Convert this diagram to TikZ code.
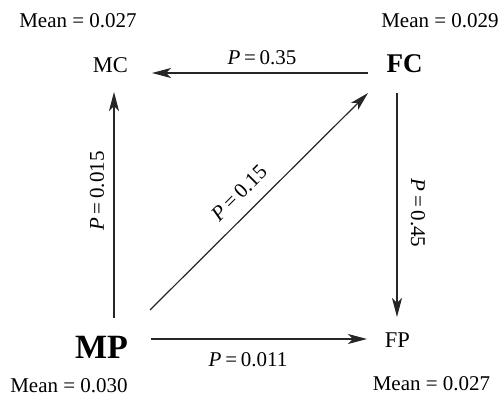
\documentclass[tikz,border=0pt]{standalone}
\usepackage{fontspec}
\setmainfont{Liberation Serif}
\usetikzlibrary{arrows.meta}
\begin{document}
\begin{tikzpicture}[x=1pt,y=-1pt,
  lbl/.style={inner sep=0pt, anchor=base, font=\fontsize{21}{24}\selectfont},
  small/.style={inner sep=0pt, anchor=base, font=\fontsize{22.5}{26}\selectfont},
  big/.style={inner sep=0pt, anchor=base, font=\fontsize{27}{30}\selectfont\bfseries},
  huge/.style={inner sep=0pt, anchor=base, font=\fontsize{34}{38}\selectfont\bfseries},
  plab/.style={inner sep=0pt, font=\fontsize{21}{24}\selectfont},
  arr/.style={draw=black!85, line width=1.2pt, -{Stealth[length=19pt,width=10pt,inset=5pt]}}]
\useasboundingbox (0,0) rectangle (501,398);
% nodes
\node[small] (MC) at (110.5,73) {MC};
\node[big] (FC) at (404.5,73) {FC};
\node[huge] (MP) at (101.5,358) {MP};
\node[small] (FP) at (397.5,348) {FP};
% means
\node[lbl] (m1) at (78,28) {Mean = 0.027};
\node[lbl] (m2) at (440,28) {Mean = 0.029};
\node[lbl] (m3) at (69,392) {Mean = 0.030};
\node[lbl] (m4) at (431.5,390) {Mean = 0.027};
% connectors
\coordinate (fcL) at ([xshift=-36.5pt]FC.base);
\coordinate (mcR) at ([xshift=41.5pt]MC.base);
\draw[arr] (fcL) -- (mcR);
\node[plab] (l035) at (262,58) {\textit{P}\hspace{0.18em}=\hspace{0.18em}0.35};
\coordinate (mpT) at ([xshift=12.5pt,yshift=40pt]MP.base);
\coordinate (mcB) at ([xshift=3.5pt,yshift=-19pt]MC.base);
\draw[arr] (mpT) -- (mcB);
\node[plab, rotate=90] (l015) at (97,191) {\textit{P}\hspace{0.18em}=\hspace{0.18em}0.015};
\coordinate (mpD) at ([xshift=48.5pt,yshift=48pt]MP.base);
\coordinate (fcD) at ([xshift=-36.5pt,yshift=-20pt]FC.base);
\draw[arr] (mpD) -- (fcD);
\node[plab, rotate=45] (l015b) at (239,193) {\textit{P}\hspace{0.18em}=\hspace{0.18em}0.15};
\coordinate (fcB) at ([xshift=-7.5pt,yshift=-20pt]FC.base);
\coordinate (fpT) at ([xshift=-0.5pt,yshift=31pt]FP.base);
\draw[arr] (fcB) -- (fpT);
\node[plab, rotate=-90] (l045) at (418,213) {\textit{P}\hspace{0.18em}=\hspace{0.18em}0.45};
\coordinate (mpR) at ([xshift=49.5pt,yshift=19pt]MP.base);
\coordinate (fpL) at ([xshift=-30.5pt,yshift=9pt]FP.base);
\draw[arr] (mpR) -- (fpL);
\node[plab] (l011) at (248,360) {\textit{P}\hspace{0.18em}=\hspace{0.18em}0.011};
\end{tikzpicture}
\end{document}
